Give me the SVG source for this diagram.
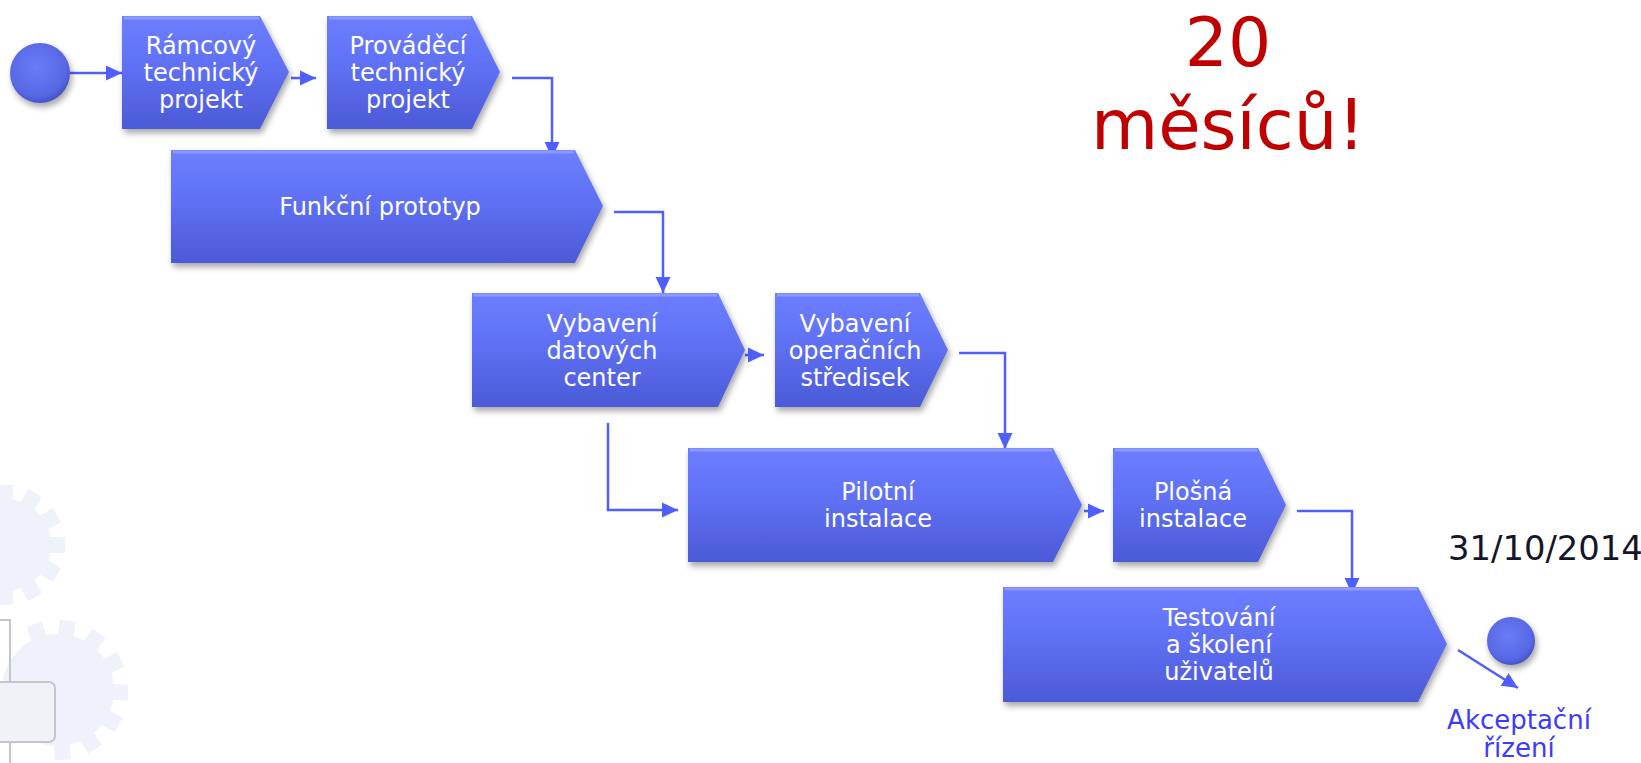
<svg xmlns="http://www.w3.org/2000/svg" xmlns:xlink="http://www.w3.org/1999/xlink" width="1641" height="763" viewBox="0 0 1641 763">
<defs>
  <linearGradient id="boxGrad" x1="0" y1="0" x2="0" y2="1">
    <stop offset="0" stop-color="#6d7eff"/>
    <stop offset="0.45" stop-color="#5f70f4"/>
    <stop offset="1" stop-color="#4b5ad6"/>
  </linearGradient>
  <radialGradient id="ballGrad" cx="0.45" cy="0.4" r="0.6">
    <stop offset="0" stop-color="#6a7cf6"/>
    <stop offset="0.8" stop-color="#5868e4"/>
    <stop offset="1" stop-color="#4554c8"/>
  </radialGradient>
  <filter id="shadow" x="-10%" y="-10%" width="125%" height="135%">
    <feDropShadow dx="2" dy="4" stdDeviation="3" flood-color="#000" flood-opacity="0.35"/>
  </filter>
  <marker id="arrow" markerUnits="userSpaceOnUse" markerWidth="16" markerHeight="16" viewBox="0 0 16 16" refX="16" refY="8" orient="auto">
    <path d="M0,0.5 L16,8 L0,15.5 Z" fill="#4f5fff"/>
  </marker>
  <rect id="tooth" x="-8" y="-14" width="16" height="16" fill="#eff1fb"/>
  <style>
    .box { fill: url(#boxGrad); filter: url(#shadow); }
    .hl { fill: none; stroke: #9aa6ff; stroke-width: 3; stroke-opacity: 0.7; }
    .lbl { font-family: "DejaVu Sans", Verdana, sans-serif; font-size: 24px; fill: #ffffff; text-anchor: middle; }
    .conn { fill: none; stroke: #4f5fff; stroke-width: 2.5; marker-end: url(#arrow); }
    .gear { fill: #eff1fb; }
  </style>
</defs>

<!-- background watermark -->
<g id="watermark">
  <g transform="translate(5,545)">
    <circle class="gear" r="46"/>
    <use xlink:href="#tooth" transform="rotate(0) translate(0,-46)"/>
    <use xlink:href="#tooth" transform="rotate(30) translate(0,-46)"/>
    <use xlink:href="#tooth" transform="rotate(60) translate(0,-46)"/>
    <use xlink:href="#tooth" transform="rotate(90) translate(0,-46)"/>
    <use xlink:href="#tooth" transform="rotate(120) translate(0,-46)"/>
    <use xlink:href="#tooth" transform="rotate(150) translate(0,-46)"/>
    <use xlink:href="#tooth" transform="rotate(180) translate(0,-46)"/>
  </g>
  <g transform="translate(58,690)">
    <circle class="gear" r="56"/>
    <use xlink:href="#tooth" transform="rotate(-20) translate(0,-56)"/>
    <use xlink:href="#tooth" transform="rotate(8) translate(0,-56)"/>
    <use xlink:href="#tooth" transform="rotate(36) translate(0,-56)"/>
    <use xlink:href="#tooth" transform="rotate(64) translate(0,-56)"/>
    <use xlink:href="#tooth" transform="rotate(92) translate(0,-56)"/>
    <use xlink:href="#tooth" transform="rotate(120) translate(0,-56)"/>
    <use xlink:href="#tooth" transform="rotate(148) translate(0,-56)"/>
    <use xlink:href="#tooth" transform="rotate(176) translate(0,-56)"/>
  </g>
  <path d="M0,620 H10 V682" fill="none" stroke="#c4c6cc" stroke-width="2"/>
  <rect x="-20" y="682" width="75" height="60" rx="6" fill="#f1f2f7" stroke="#c4c6cc" stroke-width="2"/>
  <path d="M10,742 V763" fill="none" stroke="#c4c6cc" stroke-width="2"/>
</g>

<!-- connectors -->
<g id="connectors">
  <path class="conn" d="M70,73 H122"/>
  <path class="conn" d="M291,78 H316"/>
  <path class="conn" d="M512,78 H552 V158"/>
  <path class="conn" d="M614,212 H663 V293"/>
  <path class="conn" d="M745,355 H764"/>
  <path class="conn" d="M959,353 H1005 V449"/>
  <path class="conn" d="M608,423 V510 H678"/>
  <path class="conn" d="M1084,511 H1104"/>
  <path class="conn" d="M1297,511 H1352 V594"/>
  <path class="conn" d="M1458,650 L1518,688"/>
</g>

<!-- nodes -->
<g id="start">
  <circle cx="40" cy="73" r="30" fill="url(#ballGrad)" filter="url(#shadow)"/>
</g>

<g id="n-ramcovy">
  <path class="box" d="M122,16 H260 L289,72 L260,129 H122 Z"/>
  <path class="hl" d="M124,18 H259"/>
  <text class="lbl" x="201" y="54">Rámcový</text>
  <text class="lbl" x="201" y="81">technický</text>
  <text class="lbl" x="201" y="108">projekt</text>
</g>

<g id="n-provadeci">
  <path class="box" d="M327,16 H472 L500,72 L472,129 H327 Z"/>
  <path class="hl" d="M329,18 H471"/>
  <text class="lbl" x="408" y="54">Prováděcí</text>
  <text class="lbl" x="408" y="81">technický</text>
  <text class="lbl" x="408" y="108">projekt</text>
</g>

<g id="n-funkcni">
  <path class="box" d="M171,150 H575 L603,206 L575,263 H171 Z"/>
  <path class="hl" d="M173,152 H574"/>
  <text class="lbl" x="380" y="215">Funkční prototyp</text>
</g>

<g id="n-datovych">
  <path class="box" d="M472,293 H718 L745,350 L718,407 H472 Z"/>
  <path class="hl" d="M474,295 H717"/>
  <text class="lbl" x="602" y="332">Vybavení</text>
  <text class="lbl" x="602" y="359">datových</text>
  <text class="lbl" x="602" y="386">center</text>
</g>

<g id="n-operacnich">
  <path class="box" d="M775,293 H920 L948,350 L920,407 H775 Z"/>
  <path class="hl" d="M777,295 H919"/>
  <text class="lbl" x="855" y="332">Vybavení</text>
  <text class="lbl" x="855" y="359">operačních</text>
  <text class="lbl" x="855" y="386">středisek</text>
</g>

<g id="n-pilotni">
  <path class="box" d="M688,448 H1053 L1082,505 L1053,562 H688 Z"/>
  <path class="hl" d="M690,450 H1052"/>
  <text class="lbl" x="878" y="500">Pilotní</text>
  <text class="lbl" x="878" y="527">instalace</text>
</g>

<g id="n-plosna">
  <path class="box" d="M1113,448 H1258 L1286,505 L1258,562 H1113 Z"/>
  <path class="hl" d="M1115,450 H1257"/>
  <text class="lbl" x="1193" y="500">Plošná</text>
  <text class="lbl" x="1193" y="527">instalace</text>
</g>

<g id="n-testovani">
  <path class="box" d="M1003,587 H1418 L1447,644 L1418,702 H1003 Z"/>
  <path class="hl" d="M1005,589 H1417"/>
  <text class="lbl" x="1219" y="626">Testování</text>
  <text class="lbl" x="1219" y="653">a školení</text>
  <text class="lbl" x="1219" y="680">uživatelů</text>
</g>

<g id="end">
  <circle cx="1511" cy="641" r="24" fill="url(#ballGrad)" filter="url(#shadow)"/>
  <text x="1519" y="729" font-family="DejaVu Sans, Verdana, sans-serif" font-size="26" fill="#3b3bff" text-anchor="middle">Akceptační</text>
  <text x="1519" y="757" font-family="DejaVu Sans, Verdana, sans-serif" font-size="26" fill="#3b3bff" text-anchor="middle">řízení</text>
</g>

<g id="date">
  <text x="1448" y="560" font-family="DejaVu Sans, Verdana, sans-serif" font-size="33.8" fill="#15152a">31/10/2014</text>
</g>

<g id="title">
  <text x="1228" y="66" font-family="DejaVu Sans, Verdana, sans-serif" font-size="68" fill="#c00000" text-anchor="middle">20</text>
  <text x="1228" y="149" font-family="DejaVu Sans, Verdana, sans-serif" font-size="69" fill="#c00000" text-anchor="middle">měsíců!</text>
</g>
</svg>
